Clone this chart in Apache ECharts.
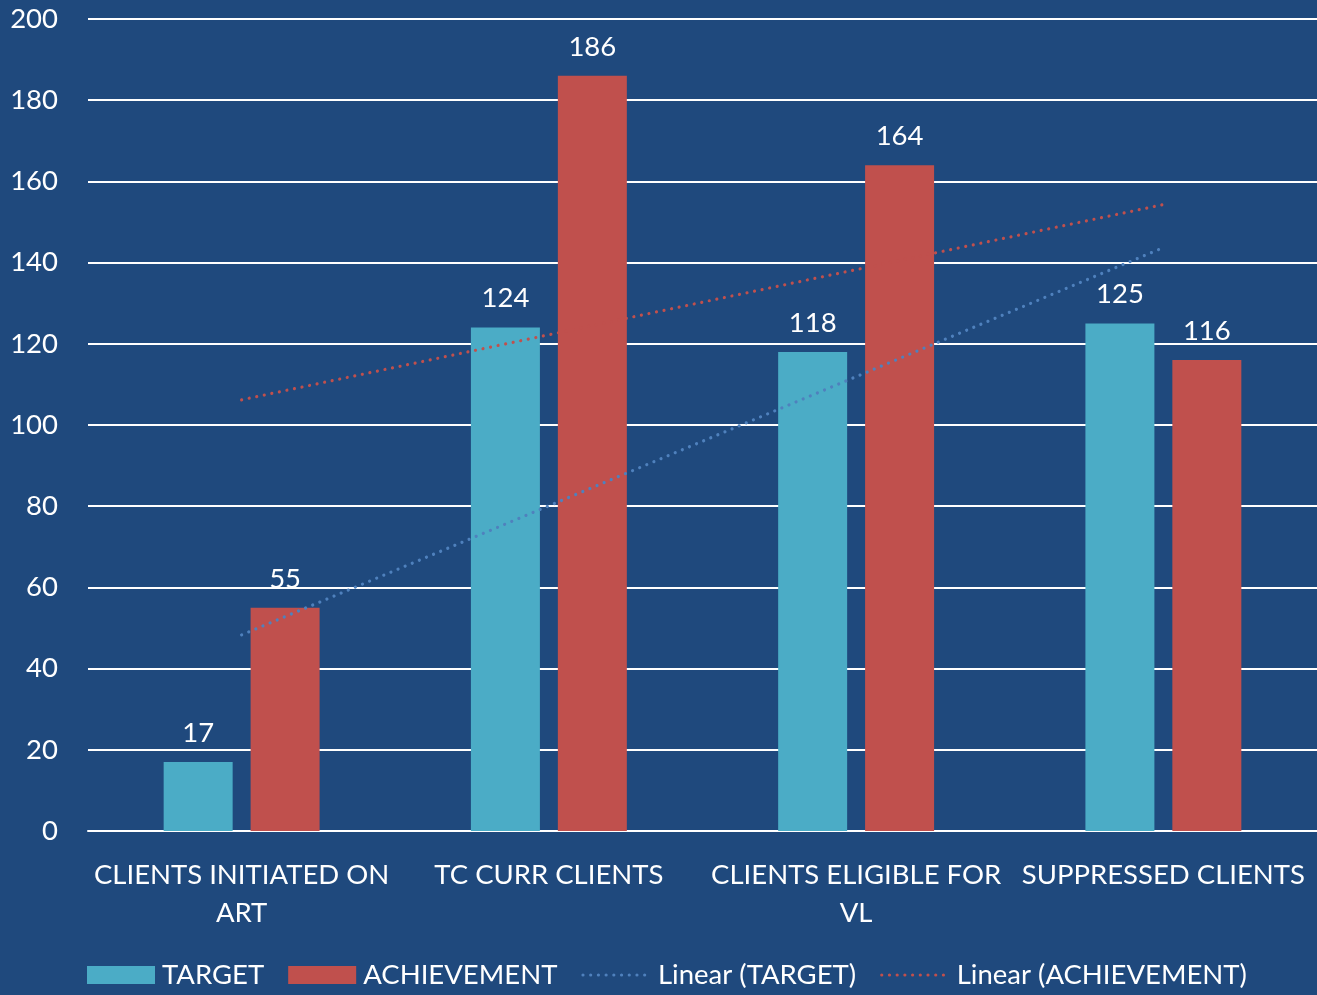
<!DOCTYPE html>
<html>
<head>
<meta charset="utf-8">
<script src="https://cdn.jsdelivr.net/npm/echarts@6/dist/echarts.min.js"></script>
<style>
html,body{margin:0;padding:0;background:#1F497D;}
#chart{width:1317px;height:995px;}
</style>
</head>
<body>
<div id="chart"></div>
<script>
const categories = ['CLIENTS INITIATED ON\nART', 'TC CURR CLIENTS', 'CLIENTS ELIGIBLE FOR\nVL', 'SUPPRESSED CLIENTS'];
const targetValues = [17, 124, 118, 125];
const achievementValues = [55, 186, 164, 116];
// trend line end points (intermediate points left empty)
const trendTarget = [48.3, null, null, 143.7];
const trendAchievement = [106.2, null, null, 154.3];
const yTicks = { min: 0, max: 200, interval: 20 };

const FONT = 'Lato';
const FS = 27.5;
const chart = echarts.init(document.getElementById('chart'));
const labelStyle = { show: true, position: 'top', distance: 15, color: '#ffffff', fontSize: FS, fontFamily: FONT };
const dotted = { width: 3.2, type: [0.01, 7.7], cap: 'round' };
chart.setOption({
  backgroundColor: '#1F497D',
  animation: false,
  textStyle: { fontFamily: FONT },
  grid: { left: 88, right: 0, top: 19, bottom: 164, containLabel: false },
  legend: {
    left: 82, top: 956,
    itemWidth: 68, itemHeight: 18, itemGap: 24,
    textStyle: { color: '#ffffff', fontSize: FS, fontFamily: FONT, padding: [0, 0, 0, 2] },
    data: [
      { name: 'TARGET', icon: 'rect' },
      { name: 'ACHIEVEMENT', icon: 'rect' },
      { name: 'Linear (TARGET)', itemStyle: { opacity: 0 }, lineStyle: Object.assign({ color: '#4F81BD' }, dotted) },
      { name: 'Linear (ACHIEVEMENT)', itemStyle: { opacity: 0 }, lineStyle: Object.assign({ color: '#C0504D' }, dotted) }
    ]
  },
  xAxis: {
    type: 'category',
    data: categories,
    axisLine: { show: true, lineStyle: { color: '#ffffff', width: 2 } },
    axisTick: { show: false },
    axisLabel: { interval: 0, color: '#ffffff', fontSize: FS, fontFamily: FONT, margin: 25, lineHeight: 38, align: 'center' }
  },
  yAxis: {
    type: 'value',
    min: yTicks.min, max: yTicks.max, interval: yTicks.interval,
    axisLine: { show: false },
    axisTick: { show: false },
    axisLabel: { color: '#ffffff', fontSize: FS, fontFamily: FONT, margin: 30 },
    splitLine: { show: true, lineStyle: { color: '#ffffff', width: 2 } }
  },
  series: [
    { name: 'TARGET', type: 'bar', data: targetValues, barWidth: 69, barGap: '26%',
      itemStyle: { color: '#4BACC6' }, label: labelStyle, z: 2 },
    { name: 'ACHIEVEMENT', type: 'bar', data: achievementValues, barWidth: 69,
      itemStyle: { color: '#C0504D' }, label: labelStyle, z: 2 },
    { name: 'Linear (TARGET)', type: 'line', data: trendTarget, connectNulls: true,
      symbol: 'none', showSymbol: false, z: 5,
      itemStyle: { color: '#4F81BD' },
      lineStyle: Object.assign({ color: '#4F81BD' }, dotted) },
    { name: 'Linear (ACHIEVEMENT)', type: 'line', data: trendAchievement, connectNulls: true,
      symbol: 'none', showSymbol: false, z: 5,
      itemStyle: { color: '#C0504D' },
      lineStyle: Object.assign({ color: '#C0504D' }, dotted) }
  ]
});
</script>
</body>
</html>
